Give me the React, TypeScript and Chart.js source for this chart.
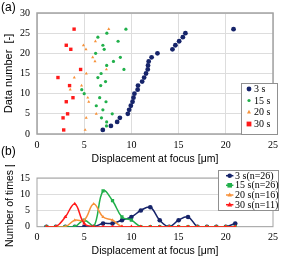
import React, { useEffect, useRef } from 'react';
import { Chart, registerables } from 'chart.js';
Chart.register(...registerables);

// ---- (a) scatter data: data number vs displacement at focus [um]
const numbers3s = [1, 2, 3, 4, 5, 6, 7, 8, 9, 10, 11, 12, 13, 14, 15, 16, 17, 18, 19, 20, 21, 22, 23, 24, 25, 26];
const disp3s = [6.97, 7.83, 8.49, 8.78, 9.62, 9.76, 9.94, 10.12, 10.22, 10.32, 10.66, 10.7, 11.14, 11.35, 11.55, 11.73, 11.76, 11.83, 12.14, 12.76, 14.35, 14.66, 15.06, 15.45, 15.72, 20.82];
const numbers15s = [1, 2, 3, 4, 5, 6, 7, 8, 9, 10, 11, 12, 13, 14, 15, 16, 17, 18, 19, 20, 21, 22, 23, 24, 25, 26];
const disp15s = [6.95, 7.36, 7.38, 6.83, 7.97, 6.98, 6.28, 7.31, 6.64, 5.0, 4.74, 6.75, 7.26, 6.45, 6.79, 9.21, 7.38, 8.1, 8.83, 6.21, 7.12, 6.98, 8.59, 6.45, 7.4, 9.42];
const numbers20s = [1, 4, 5, 8, 9, 11, 12, 14, 15, 16, 18, 19, 21, 22, 23, 26];
const disp20s = [5.1, 5.21, 6.28, 5.48, 5.38, 3.52, 4.72, 3.95, 5.22, 7.35, 6.14, 5.9, 5.19, 4.92, 6.19, 7.6];
const numbers30s = [1, 4, 5, 8, 9, 12, 14, 16, 21, 22, 26];
const disp30s = [2.83, 2.76, 3.24, 3.1, 3.81, 3.45, 2.22, 4.62, 3.58, 3.1, 3.93];

// ---- (b) histogram data: number of times per displacement bin
const binDisp = [1, 2, 3, 4, 5, 6, 7, 8, 9, 10, 11, 12, 13, 14, 15, 16, 17, 18, 19, 20, 21];
const count3s = [0, 0, 0, 0, 0, 0, 1, 1, 2, 3, 5, 6, 2, 0, 2, 3, 0, 0, 0, 0, 1];
const count15s = [0, 0, 0, 0, 2, 0, 11, 8, 3, 2, 0, 0, 0, 0, 0, 0, 0, 0, 0, 0, 0];
const count20s = [0, 0, 0, 2, 2, 7, 3, 2, 0, 0, 0, 0, 0, 0, 0, 0, 0, 0, 0, 0, 0];
const count30s = [0, 0, 3, 7, 1, 0, 0, 0, 0, 0, 0, 0, 0, 0, 0, 0, 0, 0, 0, 0, 0];

const namesA = ['3 s', '15 s', '20 s', '30 s'];
const namesB = ['3 s(n=26)', '15 s(n=26)', '20 s(n=16)', '30 s(n=11)'];
const xLabel = 'Displacement at focus [\u03bcm]';
const yLabelA = 'Data number  [-]';
const yLabelB = 'Number of times [-]';

const NAVY = '#16246a';
const GREEN = '#21b04b';
const ORANGE = '#f7923a';
const RED = '#ff1a1a';

const pairs = (xs: number[], ys: number[]) => xs.map((x, i) => ({ x, y: ys[i] }));

function drawMarker(ctx: CanvasRenderingContext2D, style: string, x: number, y: number, r: number, color: string) {
  ctx.save();
  ctx.fillStyle = color;
  ctx.beginPath();
  if (style === 'rect') {
    ctx.rect(x - r, y - r, 2 * r, 2 * r);
  } else if (style === 'triangle') {
    ctx.moveTo(x, y - r * 1.2);
    ctx.lineTo(x + r * 1.1, y + r * 0.8);
    ctx.lineTo(x - r * 1.1, y + r * 0.8);
    ctx.closePath();
  } else {
    ctx.arc(x, y, r, 0, Math.PI * 2);
  }
  ctx.fill();
  ctx.restore();
}

const framePlugin = {
  id: 'frame',
  beforeDatasetsDraw(chart: any, _a: any, opts: any) {
    const { ctx, chartArea: a } = chart;
    ctx.save();
    ctx.strokeStyle = opts.color || '#a0a0a0';
    ctx.lineWidth = opts.width || 1;
    ctx.strokeRect(a.left, a.top, a.right - a.left, a.bottom - a.top);
    ctx.restore();
  },
};

const boxLegendPlugin = {
  id: 'boxLegend',
  afterDraw(chart: any, _a: any, opts: any) {
    const { ctx } = chart;
    const { x, y, w, h, rows, markerX, textX, line, font } = opts;
    ctx.save();
    ctx.fillStyle = '#ffffff';
    ctx.fillRect(x, y, w, h);
    ctx.strokeStyle = '#909090';
    ctx.lineWidth = 1;
    ctx.strokeRect(x + 0.5, y + 0.5, w - 1, h - 1);
    ctx.font = font;
    ctx.textBaseline = 'middle';
    ctx.textAlign = 'left';
    chart.data.datasets.forEach((ds: any, i: number) => {
      const ry = y + rows[i];
      if (line) {
        ctx.strokeStyle = ds.borderColor;
        ctx.lineWidth = 1.5;
        ctx.beginPath();
        ctx.moveTo(markerX - 3.7, ry);
        ctx.lineTo(markerX + 3.7, ry);
        ctx.stroke();
      }
      drawMarker(ctx, ds.pointStyle, markerX, ry, ds.pointRadius, ds.pointBackgroundColor);
      ctx.fillStyle = '#000';
      ctx.fillText(ds.label, textX, ry + 0.5);
    });
    ctx.restore();
  },
};

const tickFont = { family: '"Liberation Serif", serif', size: 10 };

function xScale(height: number, grid: boolean) {
  return {
    type: 'linear',
    min: 0,
    max: 25,
    ticks: { stepSize: 5, font: tickFont, color: '#000', padding: 5, maxRotation: 0 },
    grid: { display: grid, color: '#dddddd', drawTicks: false },
    border: { display: false },
    title: { display: true, text: xLabel, font: { family: '"Liberation Sans", sans-serif', size: 10.5 }, color: '#000', padding: 0 },
    afterFit(s: any) { s.height = height; },
  };
}

function yScale(max: number, titlePad: number, text: string, size: number) {
  return {
    type: 'linear',
    min: 0,
    max,
    ticks: { stepSize: 5, font: tickFont, color: '#000', padding: 7 },
    grid: { color: '#dddddd', drawTicks: false },
    border: { display: false },
    title: { display: true, text, font: { family: '"Liberation Sans", sans-serif', size }, color: '#000', padding: { top: titlePad, bottom: 0 } },
    afterFit(s: any) { s.width = 37; },
  };
}

export default function App() {
  const refA = useRef<HTMLCanvasElement>(null);
  const refB = useRef<HTMLCanvasElement>(null);

  useEffect(() => {
    const chartA = new Chart(refA.current as HTMLCanvasElement, {
      type: 'scatter',
      data: {
        datasets: [
          { label: namesA[0], data: pairs(disp3s, numbers3s), pointStyle: 'circle', pointRadius: 2.4, pointBackgroundColor: NAVY, borderColor: NAVY, borderWidth: 0, backgroundColor: NAVY, order: 1 },
          { label: namesA[1], data: pairs(disp15s, numbers15s), pointStyle: 'circle', pointRadius: 1.6, pointBackgroundColor: GREEN, borderColor: GREEN, borderWidth: 0, backgroundColor: GREEN, order: 2 },
          { label: namesA[2], data: pairs(disp20s, numbers20s), pointStyle: 'triangle', pointRadius: 1.8, pointBackgroundColor: ORANGE, borderColor: ORANGE, borderWidth: 0, backgroundColor: ORANGE, order: 3 },
          { label: namesA[3], data: pairs(disp30s, numbers30s), pointStyle: 'rect', pointRadius: 2.4, pointBackgroundColor: RED, borderColor: RED, borderWidth: 0, backgroundColor: RED, order: 4 },
        ],
      },
      options: {
        animation: false,
        responsive: false,
        events: [],
        layout: { padding: { top: 13, right: 5, bottom: 0, left: 0 } },
        scales: { x: xScale(31, true), y: yScale(30, 2.5, yLabelA, 11) } as any,
        plugins: {
          legend: { display: false },
          tooltip: { enabled: false },
          frame: { color: '#a3a3a3', width: 1.5 },
          boxLegend: { x: 241, y: 83, w: 37, h: 52, rows: [6, 17.5, 29, 41], markerX: 249, textX: 254, line: false, font: '10px "Liberation Serif", serif' },
        } as any,
      },
      plugins: [framePlugin, boxLegendPlugin],
    } as any);

    const lineDs = (label: string, data: number[], color: string, style: string, r: number, order: number) => ({
      label,
      data: pairs(binDisp, data),
      borderColor: color,
      backgroundColor: color,
      pointBackgroundColor: color,
      pointBorderWidth: 0,
      pointStyle: style,
      pointRadius: r,
      borderWidth: 1.5,
      tension: 0.4,
      order,
    });

    const chartB = new Chart(refB.current as HTMLCanvasElement, {
      type: 'line',
      data: {
        datasets: [
          lineDs(namesB[0], count3s, NAVY, 'circle', 2.3, 4),
          lineDs(namesB[1], count15s, GREEN, 'rect', 2.3, 3),
          lineDs(namesB[2], count20s, ORANGE, 'triangle', 2, 2),
          lineDs(namesB[3], count30s, RED, 'triangle', 2.3, 1),
        ],
      },
      options: {
        animation: false,
        responsive: false,
        events: [],
        layout: { padding: { top: 2.3, right: 5, bottom: 0, left: 0 } },
        scales: { x: xScale(30.3, false), y: yScale(15, 4, yLabelB, 10.5) } as any,
        plugins: {
          legend: { display: false },
          tooltip: { enabled: false },
          frame: { color: '#a3a3a3', width: 1 },
          boxLegend: { x: 218, y: 5, w: 61, h: 41, rows: [5.7, 15.3, 25, 34.7], markerX: 229.7, textX: 235, line: true, font: '10px "Liberation Serif", serif' },
        } as any,
      },
      plugins: [framePlugin, boxLegendPlugin],
    } as any);

    return () => {
      chartA.destroy();
      chartB.destroy();
    };
  }, []);

  const label: React.CSSProperties = {
    position: 'absolute',
    left: 1,
    font: '12px "Liberation Sans", sans-serif',
    lineHeight: '14px',
    color: '#000',
  };

  return (
    <div style={{ position: 'fixed', left: 0, top: 0, width: 283, height: 257, background: '#fff', overflow: 'hidden' }}>
      <canvas ref={refA} width={283} height={165} style={{ position: 'absolute', left: 0, top: 0 }} />
      <canvas ref={refB} width={283} height={92} style={{ position: 'absolute', left: 0, top: 165 }} />
      <div style={{ ...label, top: 0 }}>(a)</div>
      <div style={{ ...label, top: 144 }}>(b)</div>
    </div>
  );
}
